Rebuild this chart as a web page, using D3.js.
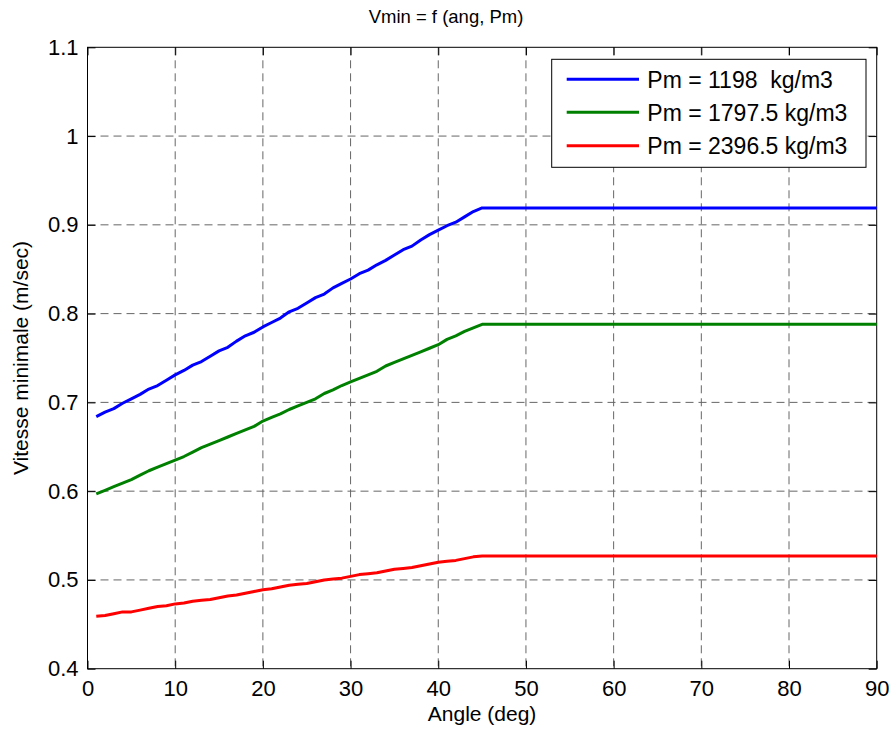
<!DOCTYPE html>
<html>
<head>
<meta charset="utf-8">
<script src="https://cdn.jsdelivr.net/npm/d3@7"></script>
<style>
  body { margin: 0; background: #fff; }
  text { font-family: "Liberation Sans", Arial, sans-serif; fill: #000; }
</style>
</head>
<body>
<div id="chartDIV"></div>
<script>
// data: angle (deg) vs minimal speed (m/sec)
var angles = [1,2,3,4,5,6,7,8,9,10,11,12,13,14,15,16,17,18,19,20,21,22,23,24,25,26,27,28,29,30,
              31,32,33,34,35,36,37,38,39,40,41,42,43,44,45,90]

var vBlue = [0.684,0.689,0.693,0.699,0.704,0.709,0.715,0.719,0.725,0.731,0.736,0.742,0.746,0.752,0.758,
             0.762,0.769,0.775,0.779,0.785,0.790,0.795,0.802,0.806,0.812,0.818,0.822,0.829,0.834,0.839,
             0.845,0.849,0.855,0.860,0.866,0.872,0.876,0.883,0.889,0.894,0.899,0.903,0.909,0.915,0.919,0.919]

var vGreen = [0.597,0.601,0.605,0.609,0.613,0.618,0.623,0.627,0.631,0.635,0.639,0.644,0.649,0.653,0.657,
              0.661,0.665,0.669,0.673,0.679,0.683,0.687,0.692,0.696,0.700,0.704,0.710,0.714,0.719,0.723,
              0.727,0.731,0.735,0.741,0.745,0.749,0.753,0.757,0.761,0.765,0.771,0.775,0.780,0.784,0.788,0.788]

var vRed = [0.459,0.460,0.462,0.464,0.464,0.466,0.468,0.470,0.471,0.473,0.474,0.476,0.477,0.478,0.480,
            0.482,0.483,0.485,0.487,0.489,0.490,0.492,0.494,0.495,0.496,0.498,0.500,0.501,0.502,0.504,
            0.506,0.507,0.508,0.510,0.512,0.513,0.514,0.516,0.518,0.520,0.521,0.522,0.524,0.526,0.527,0.527]

var seriesNames = ["Pm = 1198  kg/m3", "Pm = 1797.5 kg/m3", "Pm = 2396.5 kg/m3"]
var seriesColors = ["#0000ff", "#008000", "#ff0000"]

var xTicks = [0,10,20,30,40,50,60,70,80,90]
var yTicks = [0.4,0.5,0.6,0.7,0.8,0.9,1,1.1]

// figure size and plot box (pixels)
// (names like top/left clash with window globals, so use box*)
var figW = 892
var figH = 734
var boxL = 87.5, boxR = 876.7, boxT = 47.3, boxB = 668.7
var gridColor = "#666"
var tickLen = 8
var fontSize = 22
var lineW = 3

var x = d3.scaleLinear().domain([0, 90]).range([boxL, boxR])
var y = d3.scaleLinear().domain([0.4, 1.1]).range([boxB, boxT])

var svg = d3.select("#chartDIV").append("svg")
  .attr("width", figW)
  .attr("height", figH)

svg.append("rect")
  .attr("width", figW)
  .attr("height", figH)
  .style("fill", "#fff")

// dashed grid
svg.append("g").selectAll("line")
  .data(xTicks.slice(1, -1))
  .join("line")
  .attr("x1", d => x(d)).attr("x2", d => x(d))
  .attr("y1", boxT).attr("y2", boxB)
  .style("stroke", gridColor)
  .style("stroke-width", 1)
  .style("stroke-dasharray", "8,5")

svg.append("g").selectAll("line")
  .data(yTicks.slice(1, -1))
  .join("line")
  .attr("x1", boxL).attr("x2", boxR)
  .attr("y1", d => y(d)).attr("y2", d => y(d))
  .style("stroke", gridColor)
  .style("stroke-width", 1)
  .style("stroke-dasharray", "8,5")

// axes: bottom/left with labels, top/right mirrored ticks (all pointing inward)
var xAxis = d3.axisBottom(x).tickValues(xTicks).tickSize(-tickLen).tickPadding(12).tickFormat(d3.format("d"))
var yAxis = d3.axisLeft(y).tickValues(yTicks).tickSize(-tickLen).tickPadding(9).tickFormat(d => d)

var gx = svg.append("g").attr("transform", `translate(0,${boxB})`).call(xAxis)
var gy = svg.append("g").attr("transform", `translate(${boxL},0)`).call(yAxis)
var gxTop = svg.append("g").attr("transform", `translate(0,${boxT})`)
  .call(d3.axisTop(x).tickValues(xTicks).tickSize(-tickLen).tickFormat(""))
var gyRight = svg.append("g").attr("transform", `translate(${boxR},0)`)
  .call(d3.axisRight(y).tickValues(yTicks).tickSize(-tickLen).tickFormat(""))

;[gx, gy, gxTop, gyRight].forEach(function(g){
  g.select(".domain").remove()
  g.selectAll("line").style("stroke", "#000")
  g.selectAll("text")
    .style("font-size", `${fontSize}px`)
    .style("font-family", "Liberation Sans, Arial, sans-serif")
})

// plot box
svg.append("rect")
  .attr("x", boxL)
  .attr("y", boxT)
  .attr("width", boxR - boxL)
  .attr("height", boxB - boxT)
  .style("fill", "none")
  .style("stroke", "#000")
  .style("stroke-width", 1)

// the three curves
var line = d3.line()
  .x((d, i) => x(angles[i]))
  .y(d => y(d))

;[vBlue, vGreen, vRed].forEach(function(vals, k){
  svg.append("path")
    .datum(vals)
    .attr("d", line)
    .style("fill", "none")
    .style("stroke", seriesColors[k])
    .style("stroke-width", lineW)
    .style("stroke-linejoin", "round")
})

// title (centred on the figure) and axis labels
svg.append("text")
  .attr("x", figW / 2)
  .attr("y", 23)
  .attr("text-anchor", "middle")
  .style("font-size", "18.5px")
  .text("Vmin = f (ang, Pm)")

svg.append("text")
  .attr("x", (boxL + boxR) / 2)
  .attr("y", 721)
  .attr("text-anchor", "middle")
  .style("font-size", "21px")
  .text("Angle (deg)")

svg.append("text")
  .attr("transform", `translate(28,${(boxT + boxB) / 2}) rotate(-90)`)
  .attr("text-anchor", "middle")
  .style("font-size", "21px")
  .text("Vitesse minimale (m/sec)")

// legend
var lg = svg.append("g")
lg.append("rect")
  .attr("x", 551.7)
  .attr("y", 59.3)
  .attr("width", 314.3)
  .attr("height", 108)
  .style("fill", "#fff")
  .style("stroke", "#000")
  .style("stroke-width", 1)

var rowY = [79.3, 112.3, 145.7]
seriesNames.forEach(function(name, k){
  lg.append("line")
    .attr("x1", 566.7).attr("x2", 639)
    .attr("y1", rowY[k]).attr("y2", rowY[k])
    .style("stroke", seriesColors[k])
    .style("stroke-width", lineW)
  lg.append("text")
    .attr("x", 647.3)
    .attr("y", rowY[k])
    .attr("dy", "0.36em")
    .style("font-size", "23px")
    .style("white-space", "pre")
    .text(name)
})
</script>
</body>
</html>
